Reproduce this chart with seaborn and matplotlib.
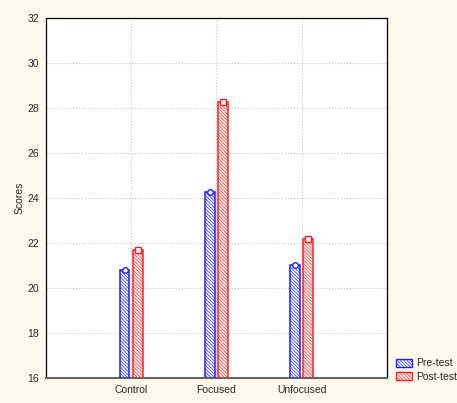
import matplotlib
matplotlib.use('Agg')
import matplotlib.pyplot as plt
import seaborn as sns
import pandas as pd
from matplotlib.patches import Patch

# 数据
groups = ['Control', 'Focused', 'Unfocused']
pre_test = [20.8, 24.27, 21.02]
post_test = [21.68, 28.25, 22.17]
series = ['Pre-test', 'Post-test']
colors = {'Pre-test': '#1f1fff', 'Post-test': '#ff2020'}
markers = {'Pre-test': 'o', 'Post-test': 's'}

df = pd.DataFrame({
    'group': groups * 2,
    'score': pre_test + post_test,
    'test': ['Pre-test'] * 3 + ['Post-test'] * 3,
})

sns.set_style('white')
plt.rcParams['font.family'] = ['Liberation Sans', 'DejaVu Sans']
plt.rcParams['hatch.linewidth'] = 0.5

fig = plt.figure(figsize=(4.57, 4.03), dpi=100, facecolor='#fdf8ec')
ax = fig.add_axes([0.1007, 0.062, 0.746, 0.894])
ax.set_facecolor('white')

sns.barplot(data=df, x='group', y='score', hue='test', hue_order=series,
            palette=colors, width=0.31, gap=0.27, ax=ax, legend=False)

ax.set_ylim(16, 32)
ax.set_xlim(-1, 3)

# 条形样式 + 顶部标记
hatch = '\\\\\\\\\\\\\\\\\\\\'
for cont, name in zip(ax.containers, series):
    c = colors[name]
    for bar in cont:
        bar.set_facecolor((1, 1, 1, 0))
        bar.set_edgecolor(c)
        bar.set_hatch(hatch)
        bar.set_linewidth(1.1)
        bar.set_zorder(3)
        ax.plot(bar.get_x() + bar.get_width() / 2, bar.get_y() + bar.get_height(),
                marker=markers[name], ms=4, mfc='white', mec=c, mew=1.0,
                zorder=4, clip_on=False)

ax.set_yticks(range(16, 33, 2))
ax.grid(True, color='#c8c8c8', linestyle=':', linewidth=0.8)
ax.set_axisbelow(True)
for s in ax.spines.values():
    s.set_color('black')
    s.set_linewidth(0.9)
ax.spines['bottom'].set_color('#666666')
ax.spines['bottom'].set_linewidth(1.5)
ax.tick_params(axis='both', labelsize=7.5, length=3, width=0.6, direction='out', pad=2)
ax.tick_params(axis='x', length=0, pad=5)
ax.set_xlabel('')
ax.set_ylabel('Scores', fontsize=7.5, labelpad=2)

handles = [Patch(facecolor='white', edgecolor=colors[n], hatch=hatch) for n in series]
fig.legend(handles, series, loc='lower left', bbox_to_anchor=(0.85, 0.035),
           frameon=False, fontsize=7.5, handlelength=1.6, handleheight=0.9,
           handletextpad=0.4, labelspacing=0.3, borderpad=0.2)

fig.savefig('out.png', dpi=100, facecolor=fig.get_facecolor())
